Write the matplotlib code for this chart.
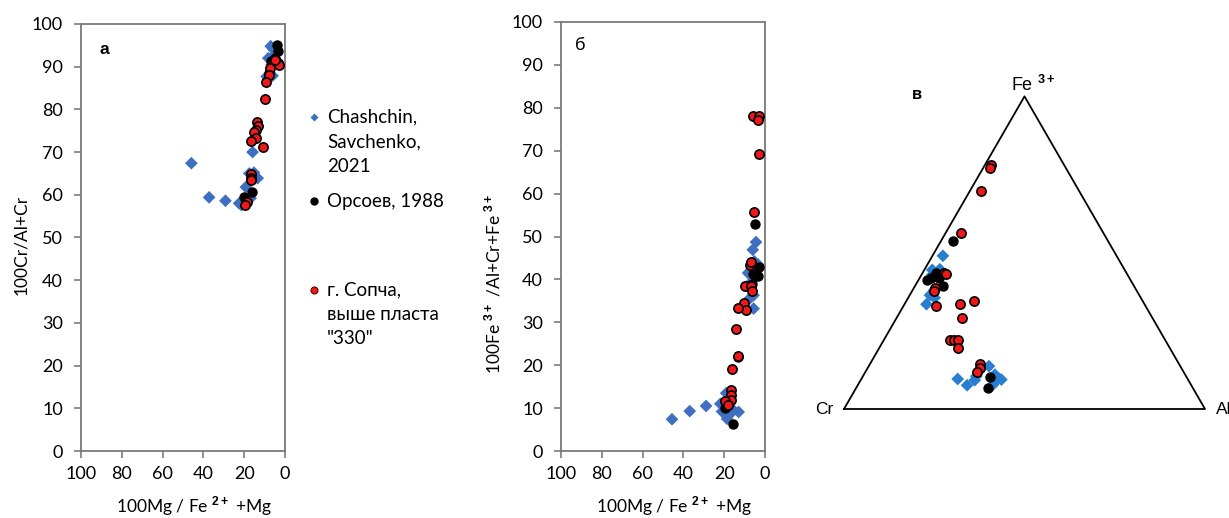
import numpy as np
import matplotlib
matplotlib.use('Agg')
import matplotlib.pyplot as plt
from matplotlib.lines import Line2D

plt.rcParams['font.family'] = ['Lato', 'DejaVu Sans']
plt.rcParams['mathtext.fontset'] = 'custom'
plt.rcParams['mathtext.rm'] = 'Lato'
plt.rcParams['mathtext.bf'] = 'Liberation Sans:bold'

W, H = 1229, 518

# ---- panel a: 100Mg/(Fe2+ + Mg) vs 100Cr/(Al+Cr)
a_blue_x = [45.9, 37.2, 29.2, 22.5, 19.2, 15.9, 17.5, 15.2, 13.4, 16.9, 21.3, 7.0, 6.1, 9.0, 4.9, 8.2, 6.5, 5.5]
a_blue_y = [67.4, 59.4, 58.6, 58.0, 61.8, 70.0, 65.0, 65.2, 63.9, 59.2, 57.6, 94.8, 87.9, 87.7, 92.8, 92.0, 90.5, 94.0]
a_black_x = [4.1, 3.3, 20.2, 16.1, 7.0, 8.0, 5.0]
a_black_y = [95.0, 93.6, 59.6, 60.6, 91.4, 88.5, 92.0]
a_red_x = [5.7, 7.4, 7.7, 3.6, 3.1, 4.9, 9.5, 9.8, 13.9, 13.1, 14.3, 15.1, 14.4, 16.7, 10.7, 16.9, 16.9, 16.9, 18.5, 19.7]
a_red_y = [91.2, 89.7, 88.1, 90.9, 90.3, 91.6, 86.3, 82.5, 77.0, 76.2, 75.2, 74.7, 73.4, 72.6, 71.3, 64.9, 64.0, 63.5, 58.4, 57.5]

# ---- panel б: 100Mg/(Fe2+ + Mg) vs 100Fe3+/(Al+Cr+Fe3+)
b_blue_x = [4.4, 6.0, 5.2, 8.3, 3.5, 5.6, 7.2, 5.6, 45.6, 36.9, 28.9, 21.9, 19.0, 21.1, 18.6, 15.4, 12.9, 17.0, 6.5]
b_blue_y = [48.7, 46.9, 44.2, 41.5, 43.5, 36.3, 35.7, 33.2, 7.4, 9.3, 10.5, 11.0, 13.5, 9.2, 7.5, 9.5, 9.1, 8.7, 39.5]
b_black_x = [5.1, 3.1, 3.6, 5.9, 13.2, 19.8, 15.7, 6.5]
b_black_y = [53.0, 42.9, 40.9, 41.3, 21.8, 10.1, 6.4, 39.0]
b_red_x = [5.9, 3.1, 3.6, 2.9, 5.6, 7.2, 7.0, 9.6, 6.9, 6.4, 10.5, 9.2, 13.4, 14.2, 13.4, 16.2, 16.5, 16.5, 16.8, 19.4, 18.3]
b_red_y = [78.2, 78.2, 77.1, 69.3, 55.7, 43.3, 44.0, 38.4, 38.4, 37.3, 34.5, 32.9, 33.3, 28.5, 22.1, 19.2, 14.3, 13.0, 11.8, 11.6, 10.8]

# ---- panel в: ternary Cr - Al - Fe3+ (fractions)
t_blue_cr = [0.481, 0.533, 0.511, 0.580, 0.571, 0.604, 0.530, 0.637, 0.621, 0.592, 0.581, 0.527, 0.517, 0.523, 0.548, 0.540, 0.560]
t_blue_al = [0.029, 0.022, 0.042, 0.056, 0.073, 0.061, 0.333, 0.267, 0.303, 0.316, 0.314, 0.363, 0.389, 0.378, 0.374, 0.030, 0.060]
t_blue_fe = [0.490, 0.445, 0.447, 0.364, 0.356, 0.335, 0.137, 0.096, 0.076, 0.092, 0.105, 0.110, 0.094, 0.099, 0.078, 0.430, 0.380]
t_black_cr = [0.429, 0.527, 0.548, 0.563, 0.527, 0.530, 0.545, 0.567]
t_black_al = [0.034, 0.039, 0.032, 0.025, 0.053, 0.076, 0.353, 0.367]
t_black_fe = [0.537, 0.434, 0.420, 0.412, 0.420, 0.394, 0.102, 0.066]
t_red_cr = [0.203, 0.211, 0.273, 0.394, 0.506, 0.501, 0.555, 0.562, 0.581, 0.512, 0.467, 0.529, 0.597, 0.586, 0.575, 0.585, 0.551, 0.556, 0.571]
t_red_al = [0.016, 0.019, 0.030, 0.043, 0.058, 0.068, 0.057, 0.060, 0.090, 0.153, 0.186, 0.180, 0.183, 0.194, 0.205, 0.219, 0.304, 0.312, 0.310]
t_red_fe = [0.781, 0.770, 0.697, 0.563, 0.436, 0.431, 0.388, 0.378, 0.329, 0.335, 0.347, 0.291, 0.220, 0.220, 0.220, 0.196, 0.145, 0.132, 0.119]

BLUE = '#3f6fc0'
BLUE_T = '#2a7ed0'
RED = '#f01818'

fig = plt.figure(figsize=(W / 100, H / 100), dpi=100)


def px_box(l, t, r, b):
    return [l / W, (H - b) / H, (r - l) / W, (b - t) / H]


def style_xy(ax):
    ax.set_xlim(100, 0)
    ax.set_ylim(0, 100)
    ax.set_xticks(range(0, 101, 20))
    ax.set_yticks(range(0, 101, 10))
    for s in ax.spines.values():
        s.set_color('#7a7a7a')
        s.set_linewidth(1.3)
    ax.tick_params(direction='out', length=5, width=1.2, color='#7a7a7a', labelsize=13)
    ax.tick_params(axis='y', pad=8)
    ax.tick_params(axis='x', pad=6)


def draw_sets(ax, bx, by, kx, ky, rx, ry, blue):
    ax.scatter(bx, by, marker='D', s=42, color=blue, edgecolors='none', zorder=3, clip_on=False)
    ax.scatter(kx, ky, marker='o', s=42, color='black', edgecolors='black', zorder=4, clip_on=False)
    ax.scatter(rx, ry, marker='o', s=44, color=RED, edgecolors='black', linewidths=1.2, zorder=5, clip_on=False)


xlab = r'100Mg / Fe $^{\mathbf{2+}}$ +Mg'

ax1 = fig.add_axes(px_box(81, 24, 285, 451))
style_xy(ax1)
draw_sets(ax1, a_blue_x, a_blue_y, a_black_x, a_black_y, a_red_x, a_red_y, BLUE)
ax1.set_ylabel('100Cr/Al+Cr', fontsize=12.5)
ax1.yaxis.set_label_coords((29 - 81) / 204, (451 - 245) / 427)
ax1.set_xlabel(xlab, fontsize=12.5)
ax1.xaxis.set_label_coords((194 - 81) / 204, (451 - 494) / 427)
ax1.text((104 - 81) / 204, (451 - 49) / 427, 'а', transform=ax1.transAxes, family='Liberation Sans',
         fontweight='bold', fontsize=12.5, ha='center', va='center')

ax2 = fig.add_axes(px_box(561, 22, 765, 451))
style_xy(ax2)
draw_sets(ax2, b_blue_x, b_blue_y, b_black_x, b_black_y, b_red_x, b_red_y, BLUE)
ax2.set_ylabel(r'100Fe $^{\mathbf{3+}}$ /Al+Cr+Fe $^{\mathbf{3+}}$', fontsize=12.5)
ax2.yaxis.set_label_coords((503 - 561) / 204, (451 - 284) / 429)
ax2.set_xlabel(xlab, fontsize=12.5)
ax2.xaxis.set_label_coords((674 - 561) / 204, (451 - 494) / 429)
ax2.text((580 - 561) / 204, (451 - 45) / 429, 'б', transform=ax2.transAxes,
         fontsize=13, ha='center', va='center')

# ternary
h = np.sqrt(3) / 2
ax3 = fig.add_axes(px_box(844, 409 - 361 * h, 1205, 409))
ax3.set_xlim(0, 1)
ax3.set_ylim(0, h)
ax3.axis('off')
ax3.plot([0, 1, 0.5, 0], [0, 0, h, 0], color='black', lw=1.3, clip_on=False)


def tern(cr, al, fe):
    cr, al, fe = np.array(cr), np.array(al), np.array(fe)
    tot = cr + al + fe
    return (al + fe / 2) / tot, fe / tot * h


tb = tern(t_blue_cr, t_blue_al, t_blue_fe)
tk = tern(t_black_cr, t_black_al, t_black_fe)
tr = tern(t_red_cr, t_red_al, t_red_fe)
draw_sets(ax3, tb[0], tb[1], tk[0], tk[1], tr[0], tr[1], BLUE_T)

ax3.text(-0.03, 0.0, 'Cr', ha='right', va='center', fontsize=12.5, family='Liberation Sans')
ax3.text(1.03, 0.0, 'Al', ha='left', va='center', fontsize=12.5, family='Liberation Sans')
ax3.text(0.525, h + 0.003, r'Fe $^{\mathbf{3+}}$', ha='center', va='bottom', fontsize=13, family='Liberation Sans')
ax3.text((917 - 844) / 361, (409 - 95) / 361, 'в', ha='center', va='center', fontsize=12,
         fontweight='bold', family='Liberation Sans')

# legend
leg = [
    (117, ['Chashchin,', 'Savchenko,', '2021'], dict(marker='D', color=BLUE, markersize=4.5, mec='none')),
    (201, ['Орсоев, 1988'], dict(marker='o', color='black', markersize=5, mec='black')),
    (290, ['г. Сопча,', 'выше пласта', '"330"'], dict(marker='o', color=RED, markersize=5, mec='#600000', mew=0.8)),
]
for y0, lines, mk in leg:
    fig.add_artist(Line2D([314 / W], [1 - y0 / H], transform=fig.transFigure, linestyle='none', **mk))
    for i, t in enumerate(lines):
        fig.text(327 / W, 1 - (y0 + i * 24.5) / H, t, fontsize=13.5, ha='left', va='center')

fig.savefig('out.png', dpi=100)
